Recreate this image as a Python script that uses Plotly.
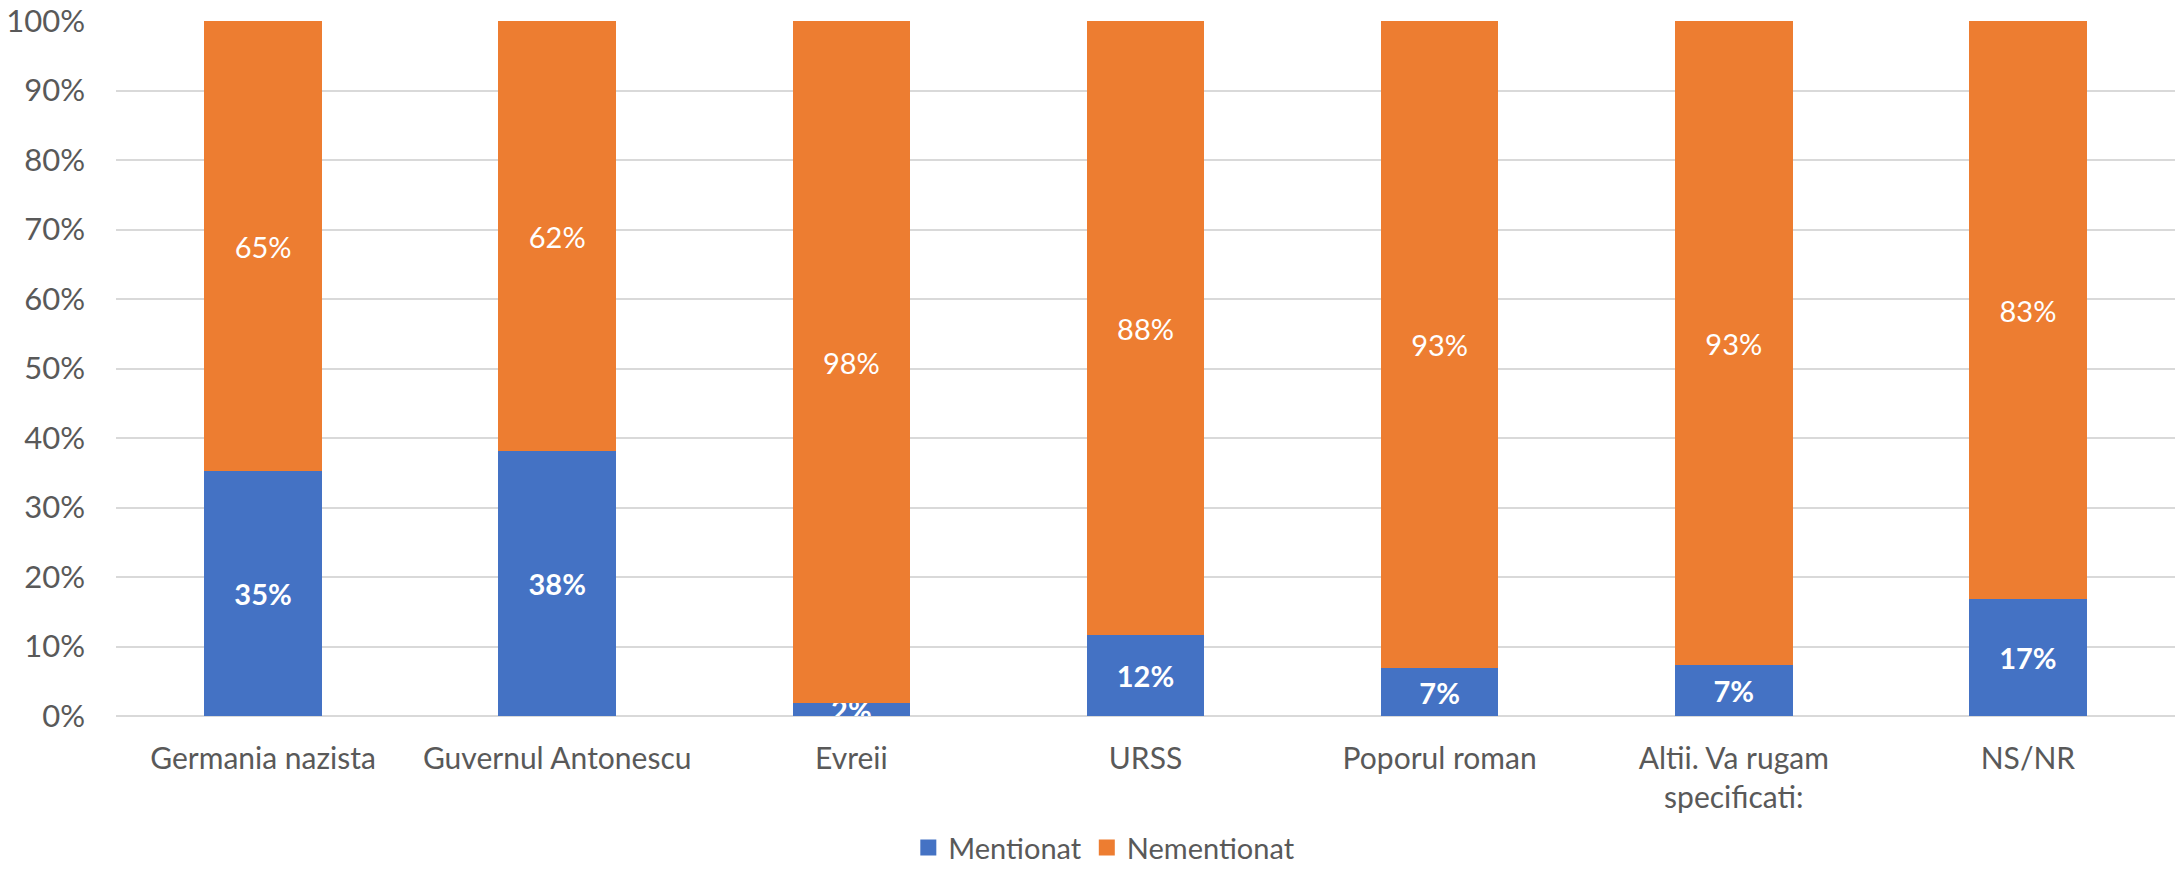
import plotly.graph_objects as go

categories = ["Germania nazista", "Guvernul Antonescu", "Evreii", "URSS",
              "Poporul roman", "Altii. Va rugam<br>specificati:", "NS/NR"]
mentionat = [35.2, 38.1, 1.8, 11.6, 6.9, 7.3, 16.8]
nementionat = [64.8, 61.9, 98.2, 88.4, 93.1, 92.7, 83.2]
tick_vals = [0, 10, 20, 30, 40, 50, 60, 70, 80, 90, 100]
tick_text = [f"{v}%" for v in tick_vals]

FONT = "Lato, Carlito, Calibri, sans-serif"
GREY = "#595959"
BLUE = "#4472C4"
ORANGE = "#ED7D31"

fig = go.Figure()
fig.add_trace(go.Bar(
    x=categories, y=mentionat, name="Mentionat", showlegend=False,
    marker=dict(color=BLUE, line=dict(width=0)),
    texttemplate="<b>%{y:.0f}%</b>", textposition="inside",
    insidetextanchor="middle",
    textfont=dict(color="white", size=29, family=FONT),
    hoverinfo="skip",
))
fig.add_trace(go.Bar(
    x=categories, y=nementionat, name="Nementionat", showlegend=False,
    marker=dict(color=ORANGE, line=dict(width=0)),
    texttemplate="%{y:.0f}%", textposition="inside",
    insidetextanchor="middle",
    textfont=dict(color="white", size=29, family=FONT),
    hoverinfo="skip",
))
for nm, col in [("Mentionat", BLUE), ("Nementionat", ORANGE)]:
    fig.add_trace(go.Scatter(
        x=[None], y=[None], mode="markers", name=nm,
        marker=dict(symbol="square", size=18, color=col, line=dict(width=0)),
        hoverinfo="skip", showlegend=True,
    ))

fig.update_layout(
    barmode="stack",
    bargap=0.6,
    width=2178, height=872,
    margin=dict(l=116, r=3, t=21, b=156, autoexpand=False),
    paper_bgcolor="white", plot_bgcolor="white",
    font=dict(family=FONT, size=30, color=GREY),
    uniformtext=dict(mode="show", minsize=29),
    legend=dict(orientation="h", x=0.48, xref="paper", y=0.028, yref="container",
                xanchor="center", yanchor="middle",
                font=dict(size=29, color=GREY, family=FONT),
                itemwidth=30, traceorder="normal"),
    showlegend=True,
)
fig.update_xaxes(showgrid=False, showline=False, ticks="", tickfont=dict(size=30, color=GREY),
                 ticklabelstandoff=22, automargin=False)
fig.update_yaxes(range=[0, 100], tickvals=tick_vals, ticktext=tick_text,
                 showgrid=True, gridcolor="#d9d9d9", gridwidth=1.5,
                 zeroline=True, zerolinecolor="#d9d9d9", zerolinewidth=1.5,
                 showline=False, ticks="", tickfont=dict(size=31, color=GREY),
                 ticklabelstandoff=30, automargin=False)

fig.write_html("out.html", config={"displayModeBar": False},
               post_script="document.body.style.margin='0';document.body.style.overflow='hidden';")
